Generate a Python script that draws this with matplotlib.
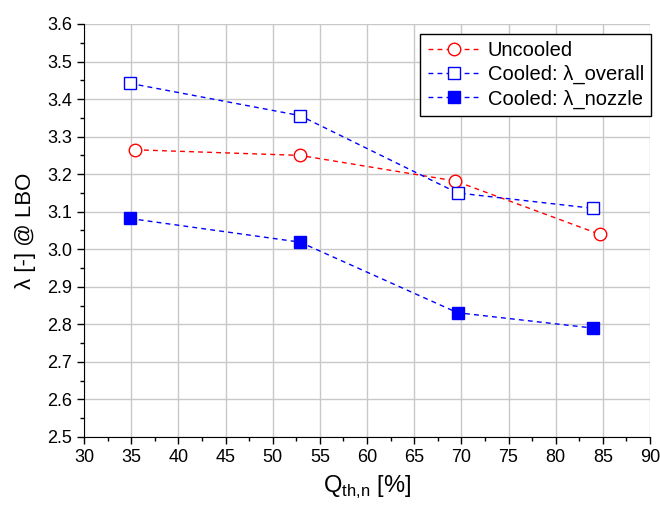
import matplotlib; matplotlib.use("Agg")
import matplotlib.pyplot as plt
from matplotlib.ticker import MultipleLocator

plt.rcParams["font.family"] = ["Liberation Sans", "DejaVu Sans"]

# data
q_unc = [35.4, 52.9, 69.35, 84.66]
lam_unc = [3.265, 3.250, 3.182, 3.040]
q_cool = [34.85, 52.9, 69.6, 84.0]
lam_overall = [3.442, 3.356, 3.150, 3.109]
lam_nozzle = [3.082, 3.019, 2.831, 2.790]

fig = plt.figure(figsize=(6.6, 5.08), dpi=100)
ax = fig.add_axes([84 / 660, 1 - 437 / 508, (650 - 84) / 660, (437 - 24) / 508])

dash = (0, (3.5, 3))
ax.plot(q_unc, lam_unc, color="#ff0000", ls=dash, lw=1.0, marker="o", ms=9,
        mfc="white", mec="#ff0000", mew=1.0, label="Uncooled")
ax.plot(q_cool, lam_overall, color="#0000ff", ls=dash, lw=1.0, marker="s", ms=8.5,
        mfc="white", mec="#0000ff", mew=1.0, label="Cooled: λ_overall")
ax.plot(q_cool, lam_nozzle, color="#0000ff", ls=dash, lw=1.0, marker="s", ms=8.5,
        mfc="#0000ff", mec="#0000ff", label="Cooled: λ_nozzle")

ax.set_xlim(30, 90)
ax.set_ylim(2.5, 3.6)
ax.xaxis.set_major_locator(MultipleLocator(5))
ax.xaxis.set_minor_locator(MultipleLocator(2.5))
ax.yaxis.set_major_locator(MultipleLocator(0.1))
ax.yaxis.set_minor_locator(MultipleLocator(0.05))
ax.yaxis.set_major_formatter(lambda v, p: f"{v:.1f}")
ax.grid(True, which="major", color="#c8c8c8", lw=1.0)
ax.set_axisbelow(True)
for s in ("top", "right"):
    ax.spines[s].set_visible(False)
ax.tick_params(which="major", direction="out", length=5, width=1, labelsize=13, colors="black")
ax.tick_params(which="minor", direction="out", length=3, width=1)

ax.set_xlabel("Q$_{\\mathregular{th{,}n}}$ [%]", fontsize=17, labelpad=6)
ax.set_ylabel("λ [-] @ LBO", fontsize=16, labelpad=8)

leg = ax.legend(loc="upper right", bbox_to_anchor=(1.02, 1.0), fontsize=14.5,
                frameon=True, fancybox=False, edgecolor="black", framealpha=1,
                handlelength=2.6, borderpad=0.35, labelspacing=0.25, handletextpad=0.4)
leg.get_frame().set_linewidth(1.0)

fig.savefig("out.png", dpi=100)
